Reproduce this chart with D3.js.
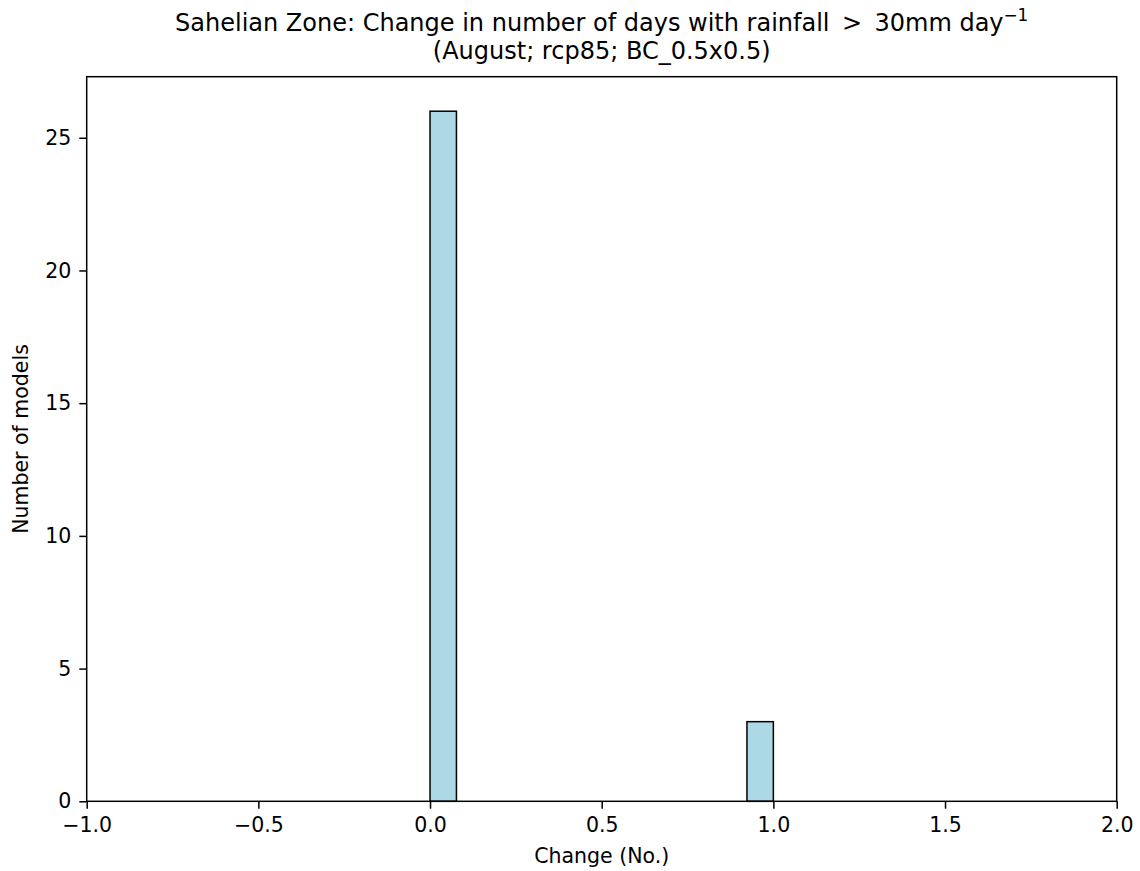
<!DOCTYPE html>
<html>
<head>
<meta charset="utf-8">
<script src="https://cdn.jsdelivr.net/npm/d3@7"></script>
<style>
body { margin: 0; background: #fff; }
text { font-family: "DejaVu Sans", sans-serif; fill: #000; }
</style>
</head>
<body>
<svg id="chart" width="1140" height="871"></svg>
<script>
// Data
const binEdges = [0, 1/13, 2/13, 3/13, 4/13, 5/13, 6/13, 7/13, 8/13, 9/13, 10/13, 11/13, 12/13, 1];
const counts = [26, 0, 0, 0, 0, 0, 0, 0, 0, 0, 0, 0, 3];
const xTicks = [-1.0, -0.5, 0.0, 0.5, 1.0, 1.5, 2.0];
const yTicks = [0, 5, 10, 15, 20, 25];
const xDomain = [-1, 2];
const yDomain = [0, 27.3];

const svg = d3.select("#chart");
const L = 86.7, R = 1116.7, T = 76.7, B = 801.3;
const FS = 20.5, TFS = 24, TICK = 7.4;

const x = d3.scaleLinear().domain(xDomain).range([L, R]);
const y = d3.scaleLinear().domain(yDomain).range([B, T]);

const bins = counts.map((c, i) => ({x0: binEdges[i], x1: binEdges[i+1], c}));

svg.append("g").selectAll("rect").data(bins).join("rect")
  .attr("x", d => x(d.x0))
  .attr("y", d => y(d.c))
  .attr("width", d => x(d.x1) - x(d.x0))
  .attr("height", d => y(0) - y(d.c))
  .attr("fill", "#add8e6")
  .attr("stroke", "#000")
  .attr("stroke-width", 1.5);

const fmtX = d => d3.format(".1f")(d).replace("-", "\u2212");

const xAxis = d3.axisBottom(x).tickValues(xTicks).tickFormat(fmtX).tickSizeOuter(0).tickSize(TICK).tickPadding(9);
const gx = svg.append("g").attr("transform", `translate(0,${B})`).call(xAxis);
gx.select(".domain").remove();
gx.selectAll("line").attr("stroke", "#000").attr("stroke-width", 1.5);
gx.selectAll("text").style("font-size", FS + "px").style("font-family", "DejaVu Sans");

const yAxis = d3.axisLeft(y).tickValues(yTicks).tickFormat(d3.format("d")).tickSizeOuter(0).tickSize(TICK).tickPadding(8);
const gy = svg.append("g").attr("transform", `translate(${L},0)`).call(yAxis);
gy.select(".domain").remove();
gy.selectAll("line").attr("stroke", "#000").attr("stroke-width", 1.5);
gy.selectAll("text").style("font-size", FS + "px").style("font-family", "DejaVu Sans");

// frame
svg.append("rect").attr("x", L).attr("y", T).attr("width", R - L).attr("height", B - T)
  .attr("fill", "none").attr("stroke", "#000").attr("stroke-width", 1.5);

// titles
const cx = (L + R) / 2;
const t1 = svg.append("text").attr("x", cx).attr("y", 31).attr("text-anchor", "middle").style("font-size", TFS + "px");
t1.append("tspan").text("Sahelian Zone: Change in number of days with rainfall \u2009>\u2009 30mm day");
t1.append("tspan").attr("dy", -10).style("font-size", (TFS * 0.7) + "px").text("\u22121");
svg.append("text").attr("x", cx).attr("y", 59).attr("text-anchor", "middle").style("font-size", TFS + "px")
  .text("(August; rcp85; BC_0.5x0.5)");

svg.append("text").attr("x", cx).attr("y", 863).attr("text-anchor", "middle").style("font-size", FS + "px")
  .text("Change (No.)");
svg.append("text").attr("transform", `translate(28,${(T + B) / 2}) rotate(-90)`).attr("text-anchor", "middle")
  .style("font-size", FS + "px").text("Number of models");
</script>
</body>
</html>
